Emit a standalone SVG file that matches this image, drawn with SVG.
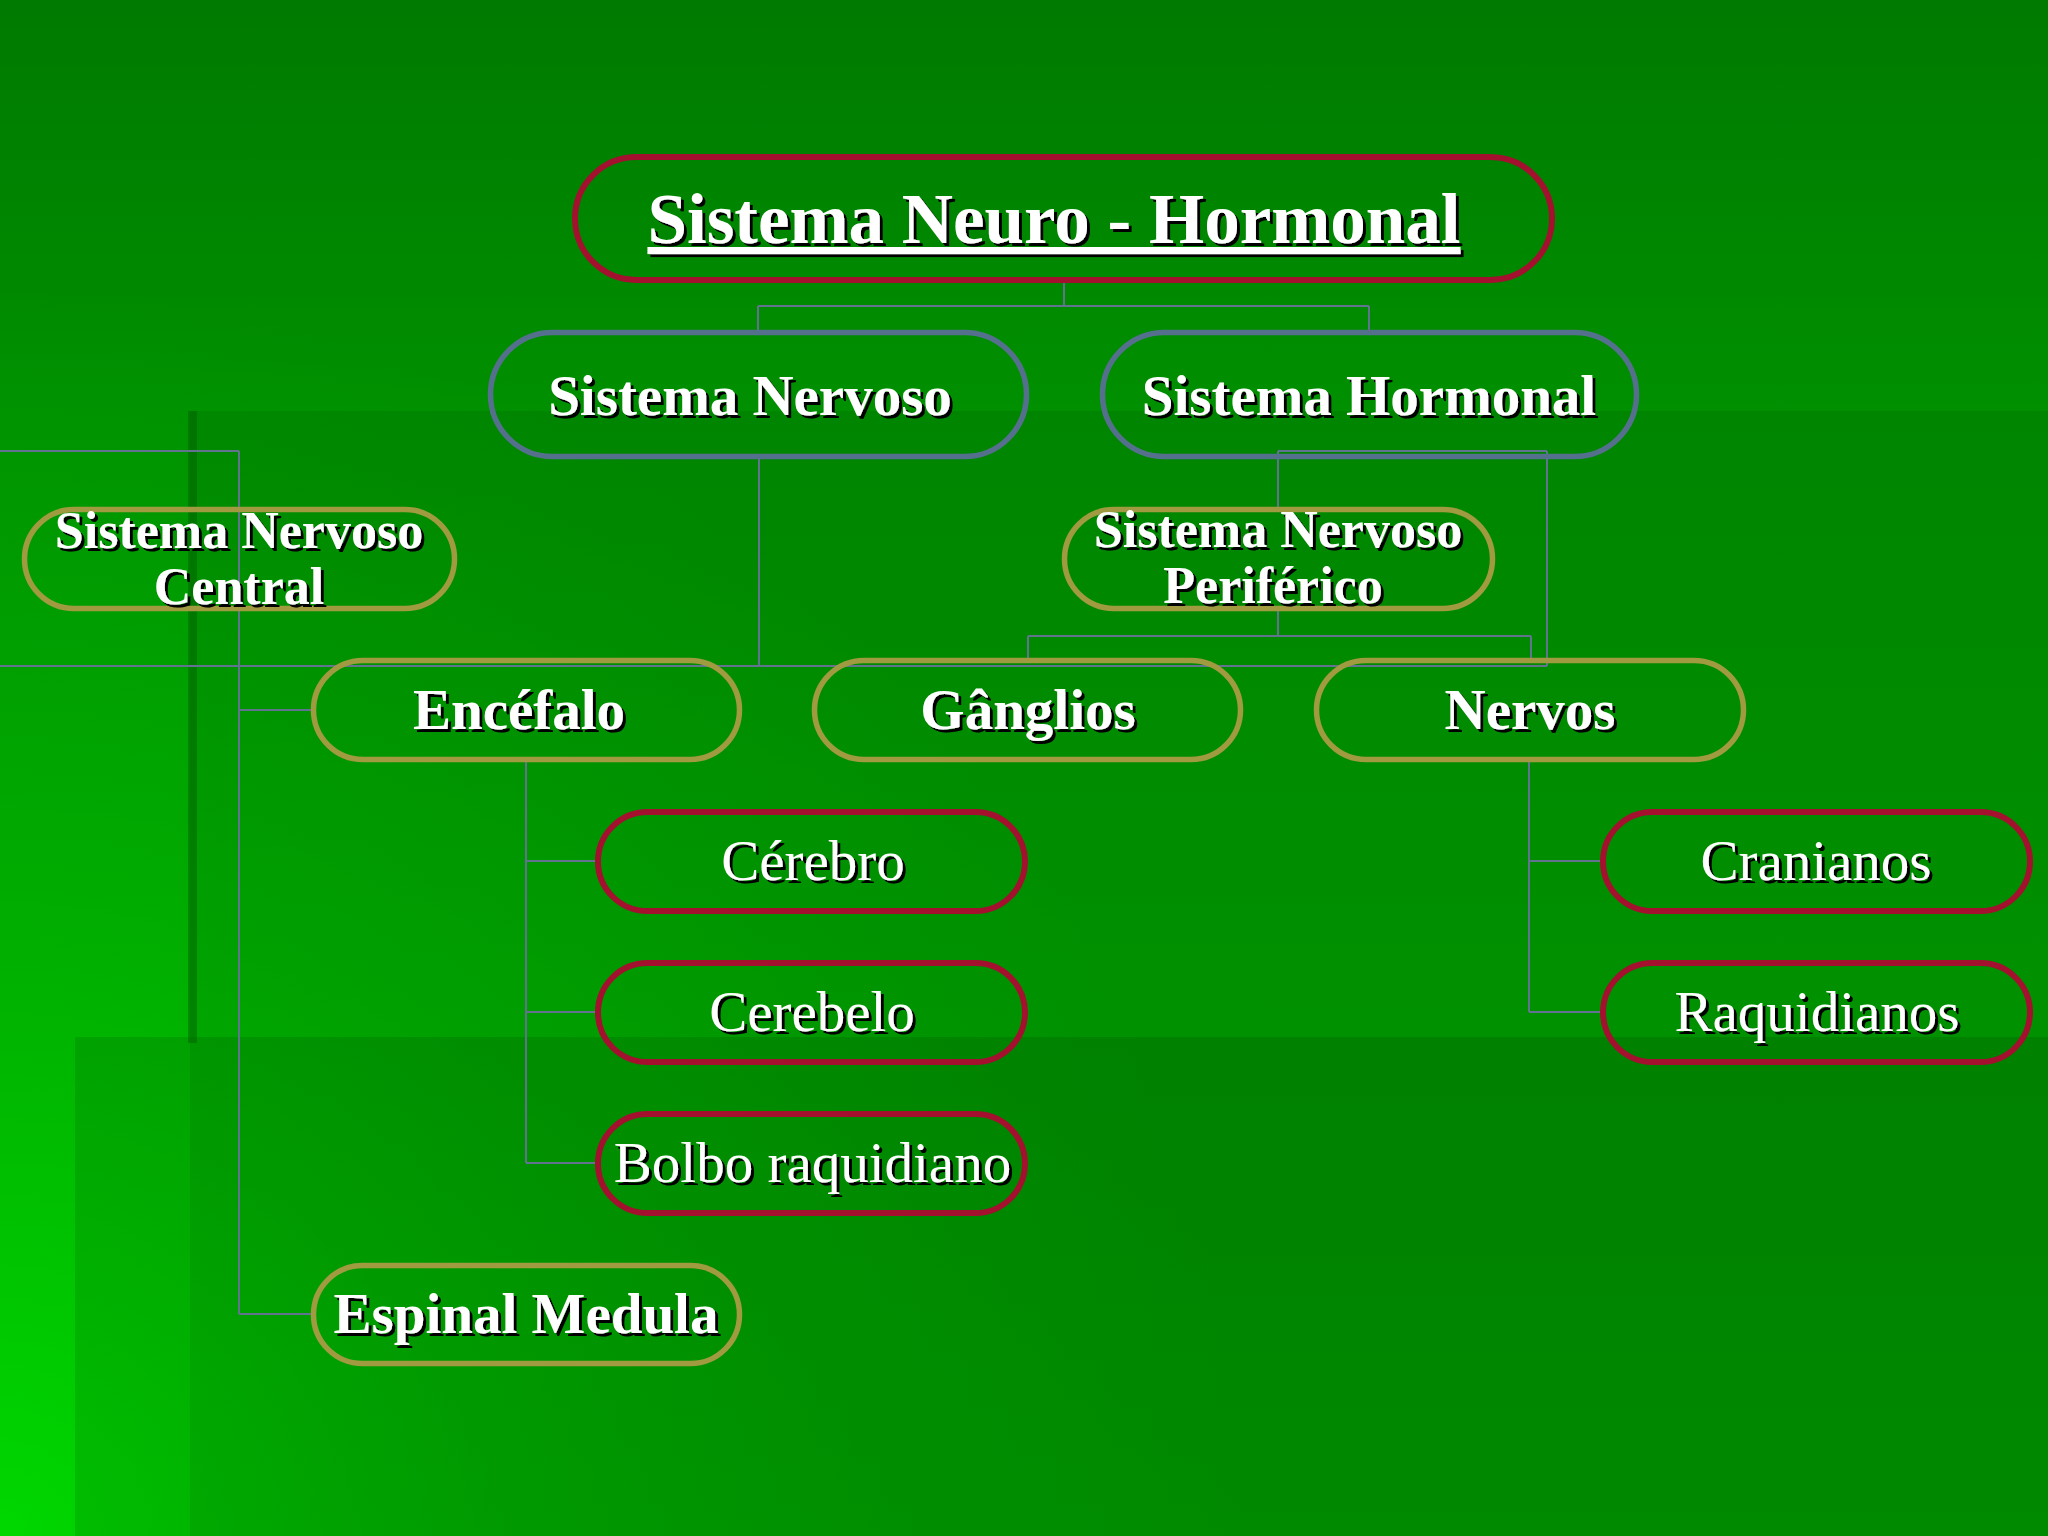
<svg xmlns="http://www.w3.org/2000/svg" width="2048" height="1536" viewBox="0 0 2048 1536">
<defs>
<linearGradient id="bgv" x1="0" y1="0" x2="0" y2="1536" gradientUnits="userSpaceOnUse">
<stop offset="0" stop-color="#007A00"/>
<stop offset="0.27" stop-color="#009000"/>
<stop offset="1" stop-color="#00A600"/>
</linearGradient>
<radialGradient id="glow" cx="0" cy="1536" r="1250" gradientUnits="userSpaceOnUse">
<stop offset="0" stop-color="#00E000" stop-opacity="0.85"/>
<stop offset="0.5" stop-color="#00D000" stop-opacity="0.35"/>
<stop offset="1" stop-color="#00C000" stop-opacity="0"/>
</radialGradient>
<filter id="shadow" x="-5%" y="-20%" width="110%" height="140%">
<feDropShadow dx="3" dy="3" stdDeviation="0.6" flood-color="#000000" flood-opacity="1"/>
</filter>
<style>
.conn line{stroke:#61738E;stroke-width:2;fill:none}
.box{fill:none}
.red{stroke:#A3112E;stroke-width:6}
.olive{stroke:#A09A40;stroke-width:5.5}
.slate{stroke:#55708C;stroke-width:5.5}
.t{font-family:"Liberation Serif","Times New Roman",serif;fill:#FFFFFF;text-anchor:middle;filter:url(#shadow)}
.b{font-weight:bold}
.s71{font-size:71px}
.s57{font-size:57px}
.s52{font-size:52px}
</style>
</defs>
<g id="background">
<rect x="0" y="0" width="2048" height="1536" fill="url(#bgv)"/>
<rect x="0" y="0" width="2048" height="1536" fill="url(#glow)"/>
<rect x="190" y="411" width="1858" height="1125" fill="#000000" fill-opacity="0.07"/>
<rect x="75" y="1037" width="1973" height="499" fill="#000000" fill-opacity="0.1"/>
<rect x="188" y="411" width="9" height="632" fill="#005A00" fill-opacity="0.45"/>
</g>
<g id="connectors" class="conn">
<line x1="1064" y1="283" x2="1064" y2="306"/>
<line x1="758" y1="306" x2="1369" y2="306"/>
<line x1="758" y1="306" x2="758" y2="330"/>
<line x1="1369" y1="306" x2="1369" y2="330"/>
<line x1="759" y1="459" x2="759" y2="666"/>
<line x1="0" y1="666" x2="1547" y2="666"/>
<line x1="1547" y1="451" x2="1547" y2="666"/>
<line x1="1278" y1="451" x2="1547" y2="451"/>
<line x1="1278" y1="451" x2="1278" y2="507"/>
<line x1="1278" y1="611" x2="1278" y2="636"/>
<line x1="1028" y1="636" x2="1531" y2="636"/>
<line x1="1028" y1="636" x2="1028" y2="658"/>
<line x1="1531" y1="636" x2="1531" y2="658"/>
<line x1="0" y1="451" x2="239" y2="451"/>
<line x1="239" y1="451" x2="239" y2="1314"/>
<line x1="239" y1="710" x2="311" y2="710"/>
<line x1="239" y1="1314" x2="311" y2="1314"/>
<line x1="526" y1="762" x2="526" y2="1163"/>
<line x1="526" y1="861" x2="595" y2="861"/>
<line x1="526" y1="1012" x2="595" y2="1012"/>
<line x1="526" y1="1163" x2="595" y2="1163"/>
<line x1="1529" y1="762" x2="1529" y2="1012"/>
<line x1="1529" y1="861" x2="1600" y2="861"/>
<line x1="1529" y1="1012" x2="1600" y2="1012"/>
</g>
<g id="node-title">
<rect class="box red" x="575" y="157" width="977" height="123" rx="61.5"/>
<text class="t b s71" x="1054" y="243" text-decoration="underline">Sistema Neuro - Hormonal</text>
</g>
<g id="node-sistema-nervoso">
<rect class="box slate" x="490.5" y="332.5" width="536" height="124" rx="62"/>
<text class="t b s57" x="750" y="415">Sistema Nervoso</text>
</g>
<g id="node-sistema-hormonal">
<rect class="box slate" x="1102.5" y="332.5" width="534" height="124" rx="62"/>
<text class="t b s57" x="1369" y="415">Sistema Hormonal</text>
</g>
<g id="node-snc">
<rect class="box olive" x="24.5" y="509.5" width="430" height="99" rx="49.5"/>
<text class="t b s52" x="239" y="548">Sistema Nervoso</text>
<text class="t b s52" x="239" y="604">Central</text>
</g>
<g id="node-snp">
<rect class="box olive" x="1064.5" y="509.5" width="428" height="99" rx="49.5"/>
<text class="t b s52" x="1278" y="547">Sistema Nervoso</text>
<text class="t b s52" x="1273" y="603">Periférico</text>
</g>
<g id="node-encefalo">
<rect class="box olive" x="313.5" y="660.5" width="426" height="99" rx="49.5"/>
<text class="t b s57" x="519" y="729">Encéfalo</text>
</g>
<g id="node-ganglios">
<rect class="box olive" x="814.5" y="660.5" width="426" height="99" rx="49.5"/>
<text class="t b s57" x="1028" y="729">Gânglios</text>
</g>
<g id="node-nervos">
<rect class="box olive" x="1316.5" y="660.5" width="427" height="99" rx="49.5"/>
<text class="t b s57" x="1530" y="729">Nervos</text>
</g>
<g id="node-espinal-medula">
<rect class="box olive" x="313.5" y="1265.5" width="426" height="98" rx="49"/>
<text class="t b s57" x="526" y="1333">Espinal Medula</text>
</g>
<g id="node-cerebro">
<rect class="box red" x="598" y="812" width="427" height="99" rx="49.5"/>
<text class="t s57" x="813" y="880">Cérebro</text>
</g>
<g id="node-cerebelo">
<rect class="box red" x="598" y="963" width="427" height="99" rx="49.5"/>
<text class="t s57" x="812" y="1031">Cerebelo</text>
</g>
<g id="node-bolbo">
<rect class="box red" x="598" y="1114" width="427" height="99" rx="49.5"/>
<text class="t s57" x="812.5" y="1182">Bolbo raquidiano</text>
</g>
<g id="node-cranianos">
<rect class="box red" x="1603" y="812" width="427" height="99" rx="49.5"/>
<text class="t s57" x="1816" y="880">Cranianos</text>
</g>
<g id="node-raquidianos">
<rect class="box red" x="1603" y="963" width="427" height="99" rx="49.5"/>
<text class="t s57" x="1817" y="1031">Raquidianos</text>
</g>
</svg>
